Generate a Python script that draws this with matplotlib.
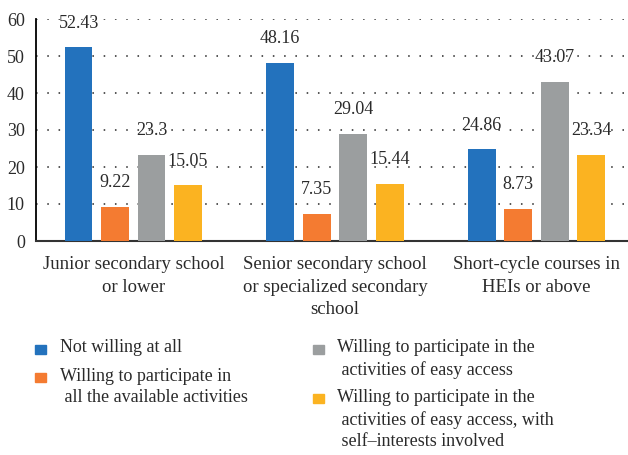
import matplotlib
matplotlib.use("Agg")
import matplotlib.pyplot as plt
from matplotlib.patches import Rectangle
import numpy as np

categories = ["Junior secondary school\nor lower",
              "Senior secondary school\nor specialized secondary\nschool",
              "Short-cycle courses in\nHEIs or above"]
series_names = ["Not willing at all",
                "Willing to participate in\n all the available activities",
                "Willing to participate in the\n activities of easy access",
                "Willing to participate in the\n activities of easy access, with\n self\u2013interests involved"]
not_willing = [52.43, 48.16, 24.86]
all_available = [9.22, 7.35, 8.73]
easy_access = [23.3, 29.04, 43.07]
easy_self = [15.05, 15.44, 23.34]
series_values = [not_willing, all_available, easy_access, easy_self]
colors = ["#2372BD", "#F47B31", "#9B9E9F", "#FBB321"]
yticks = [0, 10, 20, 30, 40, 50, 60]

plt.rcParams['font.family'] = ['Liberation Serif', 'DejaVu Serif']
txt = "#2a2a2a"

W, H = 628, 455
fig = plt.figure(figsize=(W/100, H/100), dpi=100)
ax = fig.add_axes([36/W, 1-241/H, (W-36)/W, (241-19)/H])

x = np.arange(len(categories))
bw = 0.1375
step = 0.181
offsets = (np.arange(4) - 1.5) * step
for i, (vals, c) in enumerate(zip(series_values, colors)):
    ax.bar(x + offsets[i], vals, width=bw, color=c, zorder=3)
    for xi, v in zip(x + offsets[i], vals):
        ax.annotate(f"{v:g}", (xi, v), xytext=(0, 24), textcoords='offset pixels',
                    ha='center', va='center', fontsize=13, color=txt)

ax.set_xlim(-0.483, 2.454)
ax.set_ylim(0, 60)
ax.set_yticks(yticks)
ax.set_yticklabels([str(t) for t in yticks], fontsize=13, color=txt)
ax.tick_params(axis='y', length=0, pad=8)
ax.set_xticks(x)
ax.set_xticklabels(categories, fontsize=13.5, color=txt, linespacing=1.42)
ax.tick_params(axis='x', length=0, pad=11)
for t in yticks[1:]:
    ax.axhline(t, color="#555555", lw=1.4, linestyle=(0, (0.8, 5)), zorder=1)
for s in ['top', 'right']:
    ax.spines[s].set_visible(False)
ax.spines['left'].set_color('black')
ax.spines['left'].set_linewidth(1.3)
ax.spines['bottom'].set_color('#333333')
ax.spines['bottom'].set_linewidth(1.5)

# legend (manual)
leg_pos = [(35, 345, 60, 348), (35, 373, 60, 377), (313, 345, 337, 348), (313, 394, 337, 398)]
for (mx, my, tx, ty), name, c in zip(leg_pos, series_names, colors):
    fig.patches.append(Rectangle((mx/W, 1-(my+9)/H), 11/W, 9/H, transform=fig.transFigure,
                                 color=c, figure=fig))
    fig.text(tx/W, 1-(ty-9)/H, name, ha='left', va='top', fontsize=13, color=txt,
             linespacing=1.34)

fig.savefig("out.png", dpi=100)
